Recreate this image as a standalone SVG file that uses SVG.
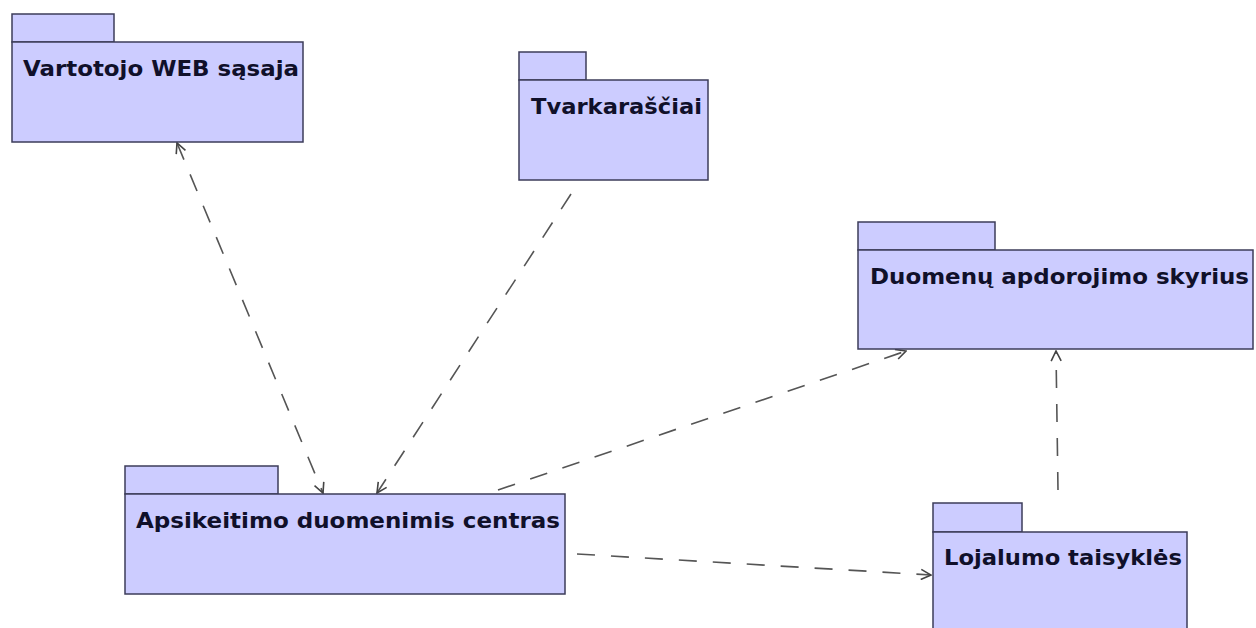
<svg xmlns="http://www.w3.org/2000/svg" width="1256" height="628" viewBox="0 0 1256 628">
<style>
.pk{fill:#ccccff;stroke:#3c3c5a;stroke-width:1.5}
.lb{font-family:"DejaVu Sans","Liberation Sans",sans-serif;font-weight:bold;font-size:22px;fill:#10102a}
.cn{fill:none;stroke:#555;stroke-width:1.6;stroke-dasharray:18 16}
</style>
<defs>
<marker id="ah" viewBox="0 0 12 12" refX="11" refY="6" markerWidth="12" markerHeight="12" markerUnits="userSpaceOnUse" orient="auto-start-reverse">
<path d="M1,1 L11,6 L1,11" fill="none" stroke="#444" stroke-width="1.6"/>
</marker>
</defs>
<rect width="1256" height="628" fill="#fff"/>
<g id="connectors">
<line class="cn" x1="177" y1="143" x2="323" y2="493" marker-start="url(#ah)" marker-end="url(#ah)"/>
<line class="cn" x1="571" y1="194" x2="377" y2="493" marker-end="url(#ah)"/>
<line class="cn" x1="498" y1="490" x2="906" y2="351" marker-end="url(#ah)"/>
<line class="cn" x1="577" y1="554" x2="931" y2="575" marker-end="url(#ah)"/>
<line class="cn" x1="1058" y1="490" x2="1056" y2="351" marker-end="url(#ah)"/>
</g>
<g id="vartotojo">
<rect class="pk" x="12" y="14" width="102" height="28"/>
<rect class="pk" x="12" y="42" width="291" height="100"/>
<text class="lb" x="23" y="76" textLength="276" lengthAdjust="spacingAndGlyphs">Vartotojo WEB sąsaja</text>
</g>
<g id="tvarkarasciai">
<rect class="pk" x="519" y="52" width="67" height="28"/>
<rect class="pk" x="519" y="80" width="189" height="100"/>
<text class="lb" x="531" y="114" textLength="171" lengthAdjust="spacingAndGlyphs">Tvarkaraščiai</text>
</g>
<g id="duomenu">
<rect class="pk" x="858" y="222" width="137" height="28"/>
<rect class="pk" x="858" y="250" width="395" height="99"/>
<text class="lb" x="870" y="284" textLength="379" lengthAdjust="spacingAndGlyphs">Duomenų apdorojimo skyrius</text>
</g>
<g id="apsikeitimo">
<rect class="pk" x="125" y="466" width="153" height="28"/>
<rect class="pk" x="125" y="494" width="440" height="100"/>
<text class="lb" x="136" y="528" textLength="424" lengthAdjust="spacingAndGlyphs">Apsikeitimo duomenimis centras</text>
</g>
<g id="lojalumo">
<rect class="pk" x="933" y="503" width="89" height="29"/>
<rect class="pk" x="933" y="532" width="254" height="110"/>
<text class="lb" x="944" y="565" textLength="238" lengthAdjust="spacingAndGlyphs">Lojalumo taisyklės</text>
</g>
</svg>
